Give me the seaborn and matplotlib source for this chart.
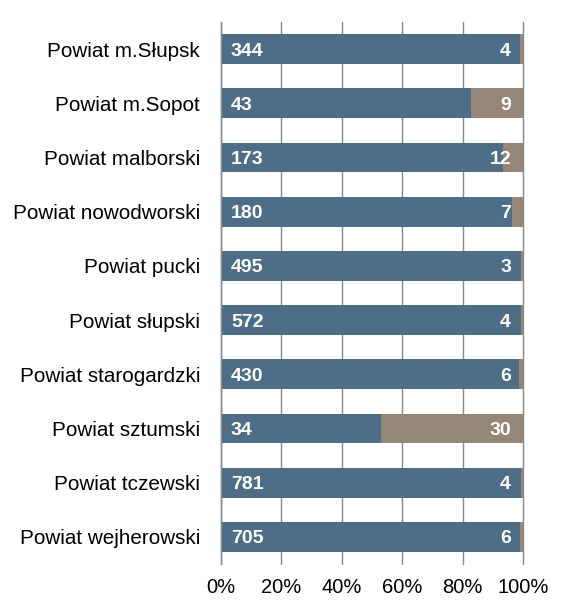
import matplotlib
matplotlib.use("Agg")
import matplotlib.pyplot as plt
import seaborn as sns
import pandas as pd
import numpy as np

categories = ["Powiat m.Słupsk", "Powiat m.Sopot", "Powiat malborski", "Powiat nowodworski",
              "Powiat pucki", "Powiat słupski", "Powiat starogardzki", "Powiat sztumski",
              "Powiat tczewski", "Powiat wejherowski"]
series_a = [344, 43, 173, 180, 495, 572, 430, 34, 781, 705]
series_b = [4, 9, 12, 7, 3, 4, 6, 30, 4, 6]
x_ticks = [0, 20, 40, 60, 80, 100]
x_tick_labels = ["0%", "20%", "40%", "60%", "80%", "100%"]

sns.set_style("white")
plt.rcParams['font.family'] = ['Liberation Sans', 'DejaVu Sans']

df = pd.DataFrame({"cat": categories, "a": series_a, "b": series_b})
df["total"] = df["a"] + df["b"]
df["pa"] = df["a"] / df["total"] * 100
df["ptot"] = 100.0

blue = "#4E6D87"
taupe = "#968678"

fig = plt.figure(figsize=(5.73, 6.14), dpi=100)
ax = fig.add_axes([221/573, 1-564/614, 302/573, 542/614])

sns.barplot(data=df, y="cat", x="ptot", color=taupe, width=0.55, ax=ax, zorder=2,
            saturation=1, edgecolor="none")
sns.barplot(data=df, y="cat", x="pa", color=blue, width=0.55, ax=ax, zorder=3,
            saturation=1, edgecolor="none")

ax.set_xlim(0, 100)
ax.set_ylim(9.5, -0.5)
ax.set_xticks(x_ticks)
ax.set_xticklabels(x_tick_labels, fontsize=14.5, color="black")
ax.set_yticks(range(len(categories)))
ax.set_yticklabels(categories, fontsize=14.9, color="black")
ax.set_xlabel("")
ax.set_ylabel("")
ax.tick_params(axis="y", length=0, pad=15)
ax.tick_params(axis="x", length=0, pad=10)
ax.grid(axis="x", color="#888888", linewidth=1, zorder=0)
ax.set_axisbelow(True)
for gl in ax.get_xgridlines():
    gl.set_clip_on(False)
for s in ["top", "right", "bottom"]:
    ax.spines[s].set_visible(False)
ax.spines["left"].set_color("#888888")
ax.spines["left"].set_linewidth(1)
ax.spines["left"].set_zorder(5)

off_l = 10 / 302 * 100
off_r = 12 / 302 * 100
for i, (a, b) in enumerate(zip(series_a, series_b)):
    ax.text(off_l, i, str(a), ha="left", va="center_baseline", color="white",
            fontsize=14, fontweight="bold", zorder=6)
    ax.text(100 - off_r, i, str(b), ha="right", va="center_baseline", color="white",
            fontsize=14, fontweight="bold", zorder=6)

fig.savefig("out.png", dpi=100)
